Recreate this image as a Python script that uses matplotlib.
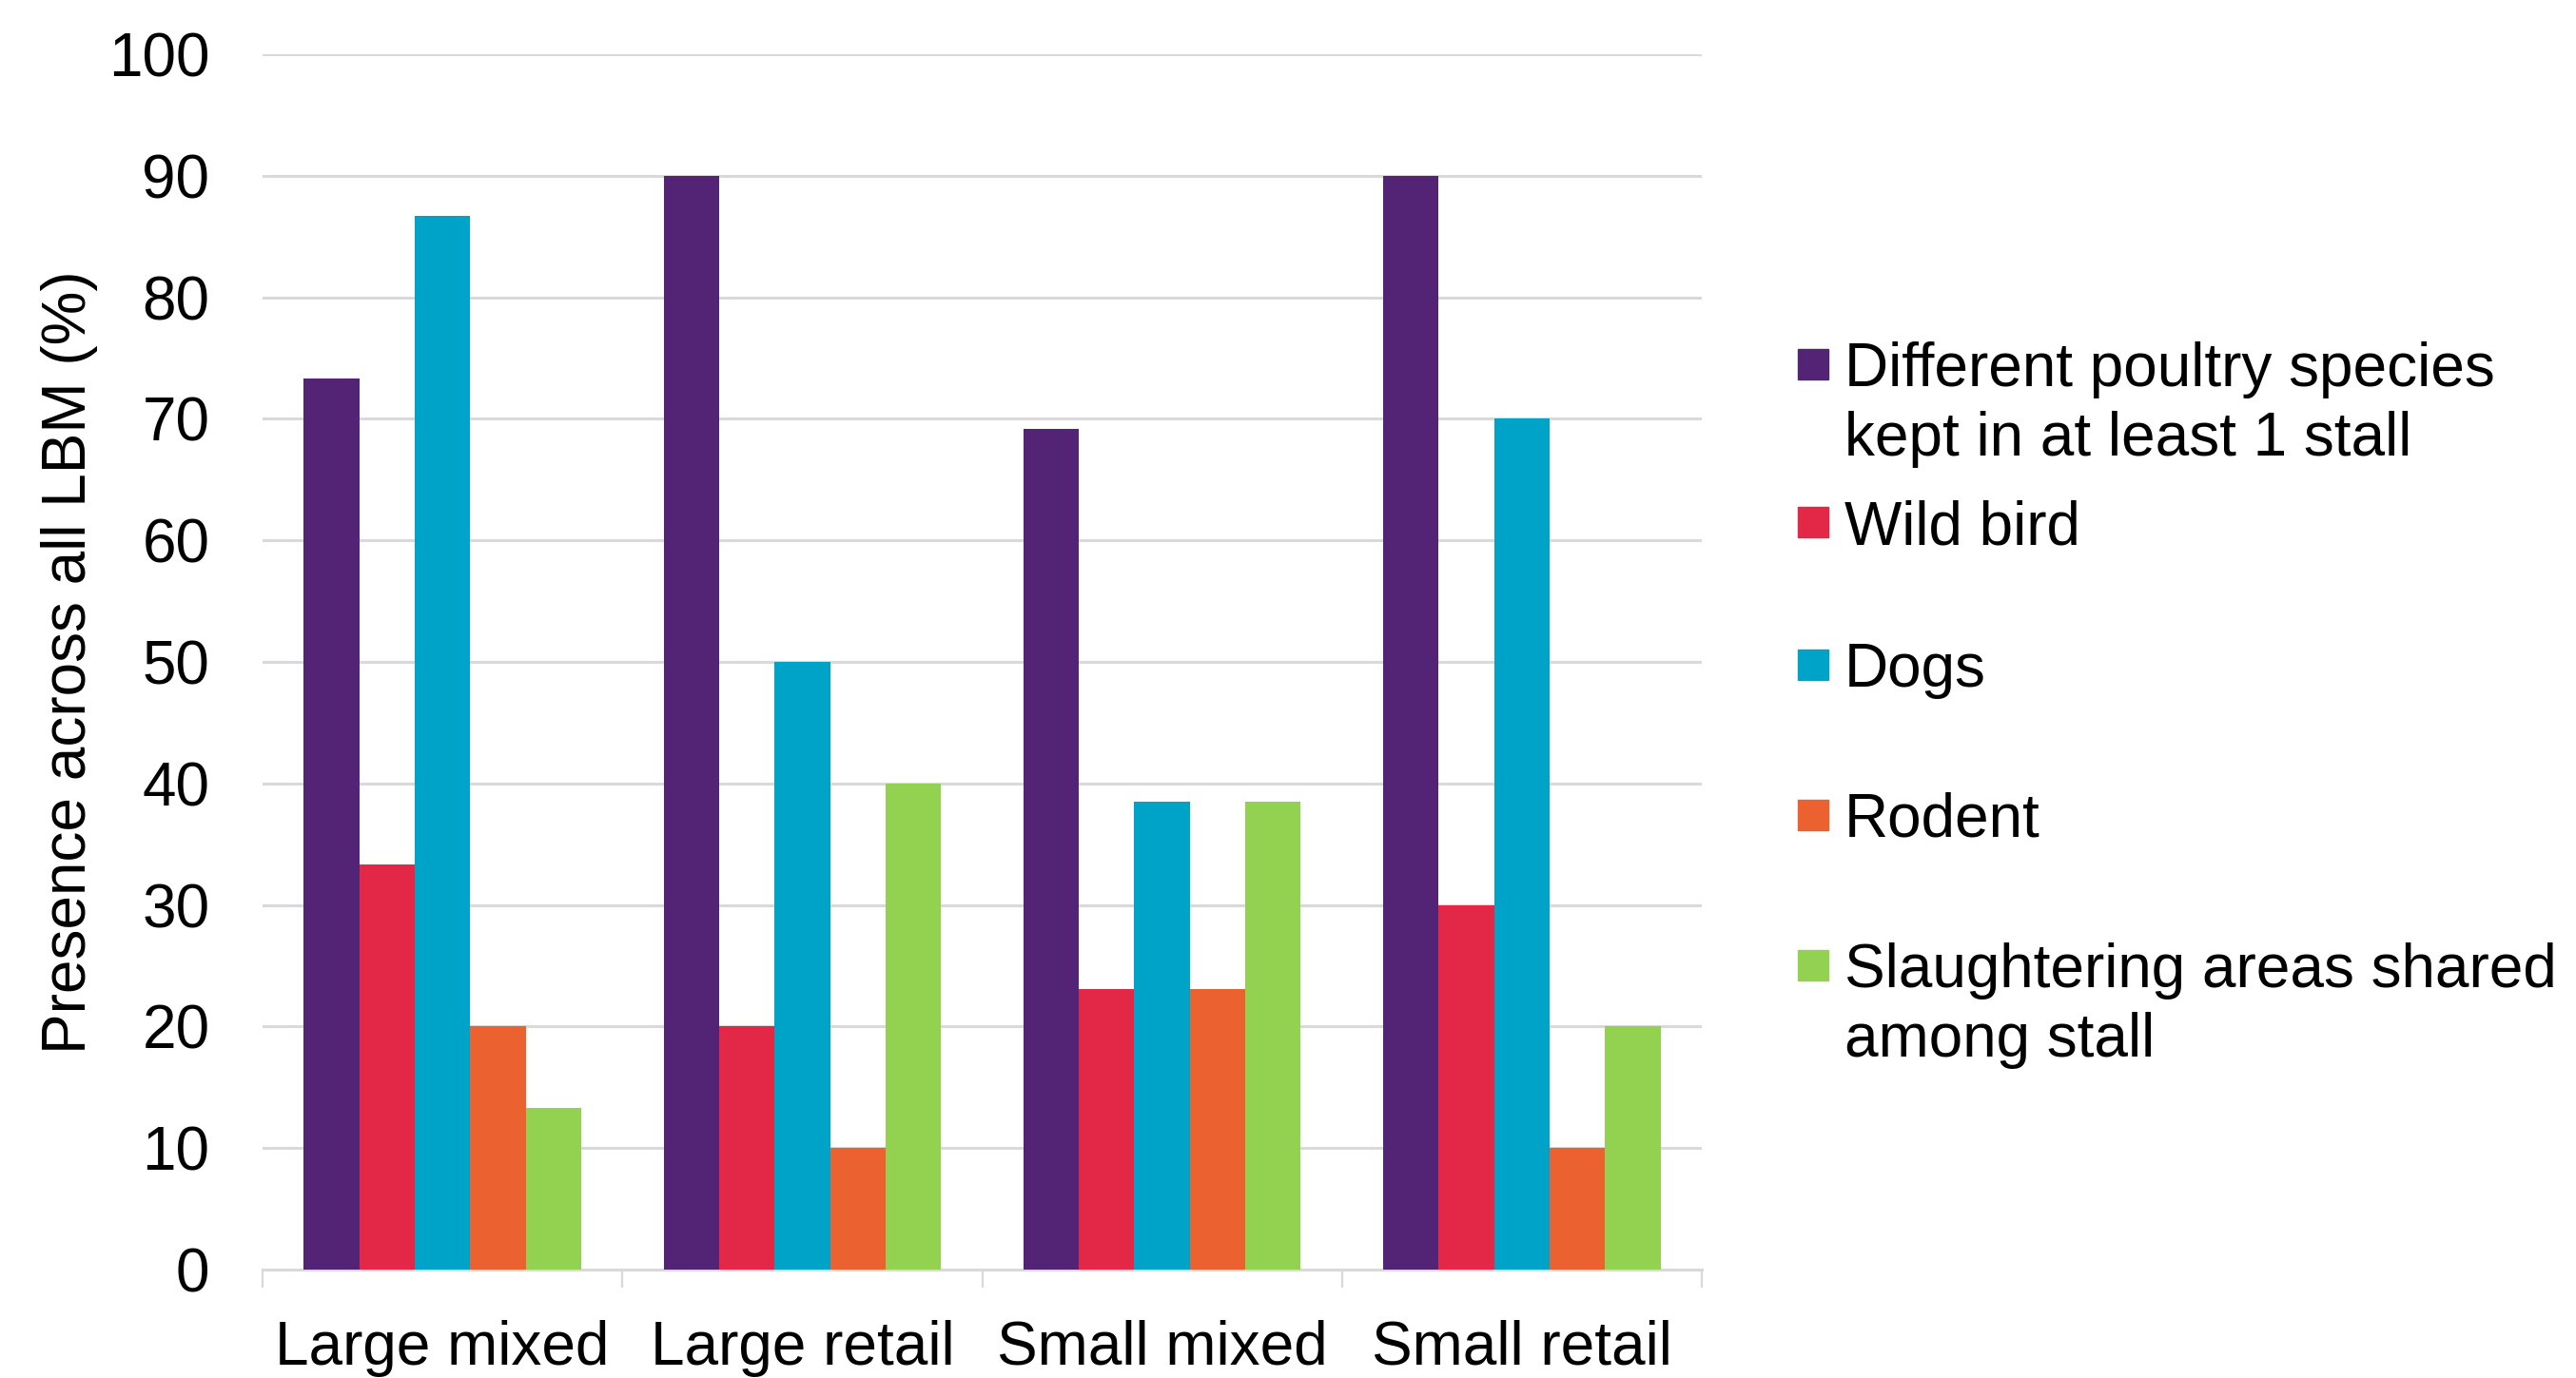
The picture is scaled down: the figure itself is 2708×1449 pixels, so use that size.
import numpy as np
import matplotlib
matplotlib.use("Agg")
import matplotlib.pyplot as plt
from matplotlib.patches import Rectangle

plt.rcParams['font.family'] = ['Liberation Sans', 'DejaVu Sans']

categories = ['Large mixed', 'Large retail', 'Small mixed', 'Small retail']
series_names = [
    'Different poultry species\nkept in at least 1 stall',
    'Wild bird',
    'Dogs',
    'Rodent',
    'Slaughtering areas shared\namong stall',
]
poultry = [73.3, 90.0, 69.2, 90.0]
wild_bird = [33.3, 20.0, 23.1, 30.0]
dogs = [86.7, 50.0, 38.5, 70.0]
rodent = [20.0, 10.0, 23.1, 10.0]
slaughter = [13.3, 40.0, 38.5, 20.0]
colors = ['#532476', '#E32747', '#00A3C8', '#EB612F', '#93D150']

W, H = 2708, 1449
fig = plt.figure(figsize=(W / 100, H / 100), dpi=100)
ax = fig.add_axes([276 / W, 1 - 1335 / H, (1789 - 276) / W, (1335 - 57) / H])

x = np.arange(len(categories))
bw = 0.154
all_series = [poultry, wild_bird, dogs, rodent, slaughter]
for i, (vals, col) in enumerate(zip(all_series, colors)):
    ax.bar(x + (i - 2) * bw, vals, width=bw, color=col, zorder=3)

ax.set_xlim(-0.5, len(categories) - 0.5)
ax.set_ylim(0, 100)
ax.set_yticks(range(0, 101, 10))
ax.yaxis.grid(True, color='#D9D9D9', linewidth=2.2, zorder=0)
ax.set_axisbelow(True)

for s in ['top', 'right', 'left']:
    ax.spines[s].set_visible(False)
ax.spines['bottom'].set_color('#D9D9D9')
ax.spines['bottom'].set_linewidth(2.2)

ax.tick_params(axis='y', length=0, pad=40, labelsize=46)
ax.set_xticks(x)
ax.set_xticklabels(categories)
ax.tick_params(axis='x', which='major', length=0, pad=38, labelsize=46)
ax.set_xticks(np.arange(-0.5, len(categories)), minor=True)
ax.tick_params(axis='x', which='minor', length=14, width=1.6, color='#D9D9D9',
               direction='out')

ax.set_ylabel('Presence across all LBM (%)', fontsize=46, labelpad=8)

# legend drawn by hand so markers line up with the first text line
marker_y = [383, 549, 699, 857, 1015]
sq = 32
for name, col, yc in zip(series_names, colors, marker_y):
    fig.add_artist(Rectangle(((1906 - sq / 2) / W, 1 - (yc + sq / 2) / H),
                             sq / W, sq / H, color=col, transform=fig.transFigure))
    fig.text(1939 / W, 1 - (yc - 24) / H, name, fontsize=46, va='top', ha='left',
             linespacing=1.28)

fig.savefig('out.png', dpi=100)
